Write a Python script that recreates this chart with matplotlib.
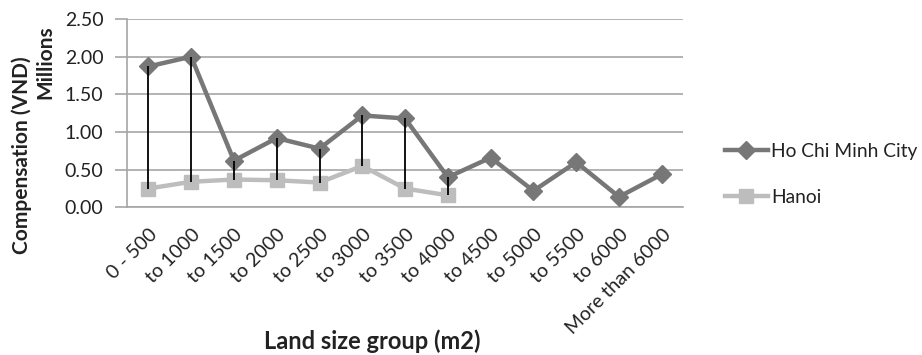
import matplotlib
matplotlib.use("Agg")
import matplotlib.pyplot as plt
import numpy as np

plt.rcParams['font.family'] = ['Lato', 'DejaVu Sans']

categories = ["0 - 500", "to 1000", "to 1500", "to 2000", "to 2500", "to 3000",
              "to 3500", "to 4000", "to 4500", "to 5000", "to 5500", "to 6000",
              "More than 6000"]
hcmc = [1.87, 2.00, 0.62, 0.92, 0.78, 1.22, 1.18, 0.40, 0.66, 0.22, 0.60, 0.14, 0.44]
hanoi = [0.25, 0.34, 0.37, 0.36, 0.33, 0.55, 0.25, 0.16]
yticks = [0.00, 0.50, 1.00, 1.50, 2.00, 2.50]

fig = plt.figure(figsize=(9.22, 3.55), dpi=100)
ax = fig.add_axes([0.1377, 0.4158, 0.6033, 0.5307])

x = np.arange(len(categories))
xh = np.arange(len(hanoi))

dark = "#777777"
light = "#bdbdbd"
grid = "#a6a6a6"
text_c = "#222222"

ax.plot(x, hcmc, color=dark, lw=3.2, marker='D', ms=9.5, mfc=dark, mec=dark,
        label="Ho Chi Minh City", zorder=3)
ax.plot(xh, hanoi, color=light, lw=3.2, marker='s', ms=10, mfc=light, mec=light,
        label="Hanoi", zorder=3)

# high-low lines between the two series where both exist
for i in xh:
    ax.plot([i, i], [hanoi[i], hcmc[i]], color="black", lw=1.3, zorder=4,
            solid_capstyle='butt')

ax.set_xlim(-0.5, len(categories) - 0.5)
ax.set_ylim(0, 2.5)
ax.set_yticks(yticks)
ax.set_yticklabels([f"{v:.2f}" for v in yticks], fontsize=14, color=text_c)
ax.set_xticks(x)
ax.set_xticklabels(categories, rotation=45, ha='right', rotation_mode='anchor',
                   fontsize=14, color=text_c)
ax.tick_params(axis='x', length=0, pad=13)
ax.tick_params(axis='y', length=9, width=1.2, color=grid, pad=8)

ax.grid(axis='y', color=grid, lw=1.2)
ax.set_axisbelow(True)
for s in ['top', 'right']:
    ax.spines[s].set_visible(False)
ax.spines['left'].set_color(grid)
ax.spines['left'].set_linewidth(1.2)
ax.spines['bottom'].set_color(grid)
ax.spines['bottom'].set_linewidth(1.2)

fig.text(0.024, 0.563, "Compensation (VND)", rotation=90, fontsize=15,
         fontweight='bold', color=text_c, ha='center', va='center')
fig.text(0.049, 0.825, "Millions", rotation=90, fontsize=15,
         fontweight='bold', color=text_c, ha='center', va='center')
fig.text(0.404, 0.04, "Land size group (m2)", fontsize=17, fontweight='bold',
         color=text_c, ha='center', va='center')

leg = ax.legend(loc='center left', bbox_to_anchor=(0.768, 0.509),
                bbox_transform=fig.transFigure, frameon=False, fontsize=13.8,
                handlelength=2.2, handletextpad=0.2, labelspacing=1.5,
                labelcolor=text_c)

fig.savefig("out.png", dpi=100)
